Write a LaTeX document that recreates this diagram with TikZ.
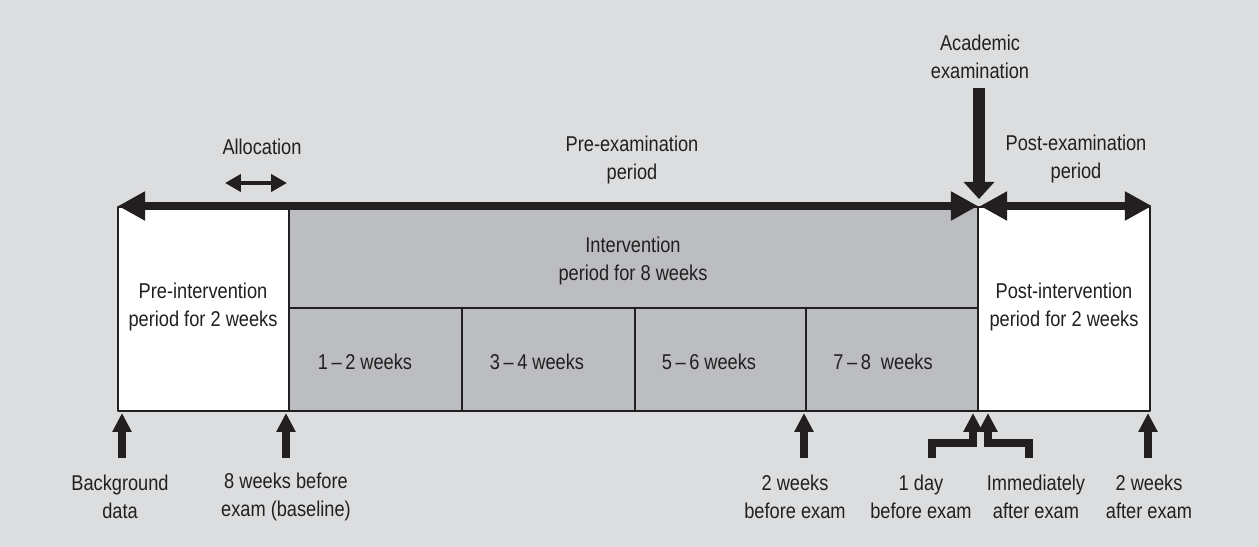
\documentclass[tikz,border=0pt]{standalone}
\usepackage{fontspec}
\setmainfont{Liberation Sans}[FakeStretch=0.85]
\usetikzlibrary{arrows.meta}
\definecolor{bggray}{HTML}{DCDDDF}
\definecolor{boxgray}{HTML}{BCBDC1}
\definecolor{ink}{HTML}{231F20}
\tikzset{
	lbl/.style={align=center, text=ink, inner sep=0pt, font=\fontsize{12.2}{16.3}\selectfont},
	frame/.style={draw=ink, line width=0.8pt},
	tick/.style={draw=ink, line width=4pt, line join=miter, -{Triangle[length=10.8pt,width=10.4pt]}},
	period/.style={draw=ink, line width=5.1pt, {Triangle[length=15.4pt,width=15.6pt]}-{Triangle[length=15.4pt,width=15.6pt]}},
}
\begin{document}
\begin{tikzpicture}[x=0.02cm, y=-0.02cm, line join=round]
			\def\ytop{207}
			\def\ymid{308}
			\def\ybot{411}
			\def\ytick{458}
			\def\ytip{413}
			\fill[bggray] (0,0) rectangle (1259,547);
			\useasboundingbox (0,0) rectangle (1259,547);
			% boxes
			\draw[frame, fill=white] (118,\ytop) rectangle (289,\ybot);
			\draw[frame, fill=boxgray] (289,\ytop) rectangle (978,\ybot);
			\draw[frame, fill=white] (978,\ytop) rectangle (1150,\ybot);
			\draw[frame] (289,\ymid) -- (978,\ymid);
			\foreach \x in {462,635,806}
				\draw[frame] (\x,\ymid) -- (\x,\ybot);
			% texts
			\node[lbl] (alloc) at (262,147) {Allocation};
			\node[lbl] (preexam) at (632,160) {Pre-examination\\period};
			\node[lbl] (academic) at (980,57) {Academic\\examination};
			\node[lbl] (postexam) at (1076,159) {Post-examination\\period};
			\node[lbl] (interv) at (633,261) {Intervention\\period for 8 weeks};
			\node[lbl] (preinterv) at (203,307) {Pre-intervention\\period for 2 weeks};
			\node[lbl] (postinterv) at (1064,307) {Post-intervention\\period for 2 weeks};
			\node[lbl] (wk12) at (365,362) {1\,--\,2 weeks};
			\node[lbl] (wk34) at (537,362) {3\,--\,4 weeks};
			\node[lbl] (wk56) at (709,362) {5\,--\,6 weeks};
			\node[lbl] (wk78) at (883,362) {7\,--\,8\ \ weeks};
			\node[lbl] (bgdata) at (120,497) {Background\\data};
			\node[lbl] (baseline) at (286,497) {8 weeks before\\exam (baseline)};
			\node[lbl] (twobefore) at (795,497) {2 weeks\\before exam};
			\node[lbl] (daybefore) at (921,497) {1 day\\before exam};
			\node[lbl] (rightafter) at (1036,497) {Immediately\\after exam};
			\node[lbl] (twoafter) at (1149,497) {2 weeks\\after exam};
			% period arrows
			\coordinate (preL) at (118,206);
			\coordinate (examL) at (978,206);
			\coordinate (examR) at (980,206);
			\coordinate (postR) at (1152,206);
			\draw[period] (preL) -- (examL);
			\draw[period] (examR) -- (postR);
			\coordinate (allocL) at (225,183);
			\coordinate (allocR) at (287,183);
			\draw[draw=ink, line width=2.3pt, {Triangle[length=9pt,width=9.6pt]}-{Triangle[length=9pt,width=9.6pt]}] (allocL) -- (allocR);
			\coordinate (examTop) at (979,88);
			\coordinate (examTip) at (979,199);
			\draw[draw=ink, line width=7pt, -{Triangle[length=9.7pt,width=17pt]}] (examTop) -- (examTip);
			% time points
			\foreach \x/\name in {122/bg,286/base,804/twob,1148/twoa}{
				\coordinate (\name Foot) at (\x,\ytick);
				\coordinate (\name Tip) at (\x,\ytip);
				\draw[tick] (\name Foot) -- (\name Tip);
			}
			\coordinate (dayFoot) at (932,\ytick);
			\coordinate (dayTip) at (973,\ytip);
			\coordinate (immFoot) at (1029,\ytick);
			\coordinate (immTip) at (988,\ytip);
			\draw[tick] (dayFoot) |- (973,443) -- (dayTip);
			\draw[tick] (immFoot) |- (988,443) -- (immTip);
		\end{tikzpicture}
\end{document}
